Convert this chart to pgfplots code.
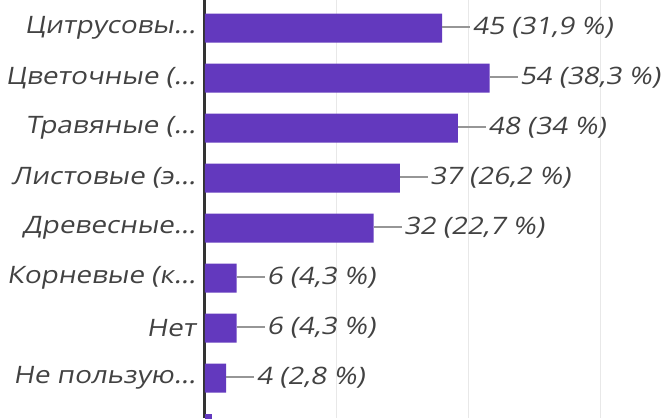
\documentclass[border=0pt]{standalone}
\usepackage{fontspec}
\setmainfont{Open Sans}[FakeSlant=0.18, FakeStretch=1.16]
\usepackage{pgfplots}
\pgfplotsset{compat=1.18}
\definecolor{barc}{RGB}{99,57,190}
\definecolor{txt}{RGB}{66,66,66}
\definecolor{lead}{RGB}{150,150,150}
\definecolor{gridc}{RGB}{232,232,232}
\definecolor{axisc}{RGB}{51,51,51}
\newcommand{\lbl}{\fontsize{24}{28}\selectfont}

\begin{document}
\begin{tikzpicture}
\begin{axis}[
  at={(205pt,0pt)}, anchor=south west,
  scale only axis, width=459pt, height=418pt,
  xbar, bar width=29pt, bar shift=0pt,
  xmin=0, xmax=87.1,
  ymin=-0.56, ymax=7.8, y dir=reverse,
  axis x line=bottom, x axis line style={draw=none},
  axis y line=left, y axis line style={-, line width=3pt, color=axisc},
  xtick={25,50,75}, xticklabels={},
  xmajorgrids, grid style={gridc, line width=1pt},
  tick style={draw=none},
  ytick={0,...,7},
  yticklabels={Цитрусовы…, Цветочные (…, Травяные (…, Листовые (э…, Древесные…, Корневые (к…, Нет, Не пользую…},
  yticklabel style={font=\lbl, text=txt, inner xsep=0pt, xshift=-7pt},
  nodes near coords={\textcolor{lead}{\rule[0.3em]{28pt}{1.6pt}}\hspace{2pt}\pgfplotspointmeta},
  every node near coord/.append style={anchor=west, inner xsep=0pt, font=\lbl, text=txt},
]
\addplot[draw=none, fill=barc, point meta=explicit symbolic] coordinates {
  (45,0) [45 (31,9 \%)]
  (54,1) [54 (38,3 \%)]
  (48,2) [48 (34 \%)]
  (37,3) [37 (26,2 \%)]
  (32,4) [32 (22,7 \%)]
  (6,5) [6 (4,3 \%)]
  (6,6) [6 (4,3 \%)]
  (4,7) [4 (2,8 \%)]
};
\addplot[draw=none, fill=barc, nodes near coords={}] coordinates {(1.4,8)};
\end{axis}
\pgfresetboundingbox
\path (0,0) rectangle (664pt,418pt);
\end{tikzpicture}
\end{document}
